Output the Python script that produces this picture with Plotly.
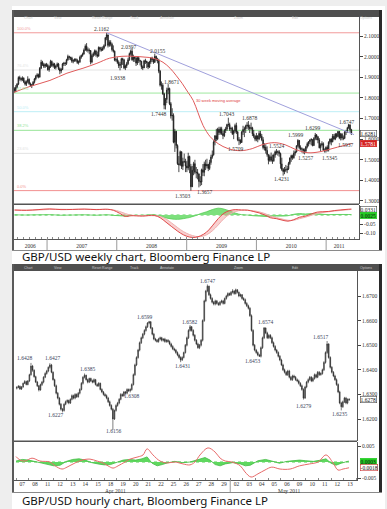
import plotly.graph_objects as go
import pandas as pd

W, H = 387, 509

# ---------------- weekly GBP/USD, values in thousandths ----------------
wk_first_date = "2006-07-14"
wk_first_open = 1845
wk_close = [
    1835, 1851, 1867, 1899, 1895, 1889, 1896, 1878, 1867, 1879, 1890, 1869, 1860, 1863, 1876, 1892,
    1905, 1912, 1902, 1944, 1973, 1962, 1954, 1962, 1958,
    1937, 1953, 1977, 1957, 1965, 1947, 1954, 1965, 1942, 1931, 1938, 1965, 1968, 1967, 1985, 2001, 1997,
    1994, 1978, 1981, 1987, 1983, 1972, 1975, 1998, 2006, 2013, 2032, 2051, 2034, 2031, 2030, 1974, 2006, 2015,
    2028, 2010, 2003, 2045, 2036, 2032, 2041, 2053, 2092, 2106, 2055, 2070, 2060, 2034, 2027, 1983, 1986,
    1972, 1957, 1963, 1990, 1985, 1946, 1955, 1966, 1985, 2015, 2027, 1985, 1998, 1993, 1969, 1995, 1982,
    1978, 1951, 1946, 1980, 1978, 1972, 1950, 1974, 1993, 1986, 1973, 2002, 1988, 1981, 1930, 1862, 1862, 1820,
    1765, 1793, 1838, 1846, 1772, 1713, 1715, 1585, 1638, 1569, 1481, 1476, 1539, 1468, 1492, 1491, 1470,
    1460, 1516, 1467, 1369, 1449, 1481, 1439, 1439, 1432, 1395, 1392, 1451, 1439, 1480, 1470, 1477, 1458,
    1487, 1513, 1524, 1586, 1616, 1601, 1648, 1632, 1650, 1627, 1617, 1643, 1649, 1671, 1671, 1649, 1652, 1626,
    1639, 1666, 1635, 1597, 1594, 1584, 1634, 1647, 1650, 1664, 1668, 1658, 1652, 1655, 1626, 1614, 1600,
    1615, 1601, 1628, 1614, 1597, 1559, 1561, 1545, 1525, 1497, 1515, 1497, 1495, 1523, 1539, 1536, 1539, 1530,
    1480, 1453, 1443, 1452, 1450, 1456, 1482, 1508, 1520, 1510, 1532, 1538, 1568, 1594, 1559, 1553, 1552,
    1545, 1542, 1563, 1578, 1588, 1596, 1598, 1569, 1604, 1620, 1612, 1596, 1558, 1572, 1578, 1546, 1544, 1560,
    1547, 1585, 1600, 1587, 1614, 1601, 1624, 1613, 1637, 1606, 1624, 1605, 1604, 1634, 1637, 1655, 1670,
    1646, 1628]
wk_high = [
    1852, 1862, 1872, 1905, 1908, 1900, 1905, 1900, 1885, 1885, 1905, 1895, 1875, 1868, 1882, 1897,
    1912, 1920, 1918, 1950, 1985, 1980, 1970, 1968, 1970,
    1966, 1958, 1985, 1982, 1972, 1970, 1960, 1972, 1970, 1948, 1945, 1970, 1975, 1975, 1990, 2010, 2005,
    2000, 2000, 1988, 1992, 1993, 1990, 1982, 2005, 2010, 2020, 2040, 2060, 2066, 2045, 2040, 2025, 2015, 2022,
    2035, 2034, 2025, 2050, 2048, 2048, 2050, 2060, 2095, 2116, 2100, 2080, 2080, 2068, 2055, 2030, 1995,
    1998, 1982, 1975, 1995, 1995, 1990, 1962, 1975, 1995, 2020, 2035, 2040, 2010, 2000, 2000, 2003, 2003,
    1985, 1980, 1958, 1985, 1990, 1980, 1975, 1980, 1998, 2000, 1990, 2015, 2005, 1995, 1990, 1935, 1880, 1872,
    1825, 1800, 1850, 1867, 1850, 1780, 1750, 1725, 1650, 1640, 1575, 1518, 1545, 1540, 1510, 1530, 1505,
    1495, 1534, 1520, 1480, 1470, 1490, 1500, 1465, 1455, 1432, 1420, 1457, 1479, 1491, 1500, 1505, 1480,
    1500, 1525, 1545, 1595, 1620, 1650, 1655, 1660, 1660, 1660, 1640, 1650, 1660, 1675, 1704, 1680, 1660, 1660,
    1645, 1675, 1680, 1640, 1610, 1600, 1640, 1665, 1660, 1670, 1682, 1688, 1670, 1680, 1660, 1645, 1620,
    1630, 1620, 1640, 1640, 1625, 1610, 1580, 1575, 1565, 1525, 1525, 1535, 1525, 1530, 1545, 1552, 1545, 1547,
    1535, 1510, 1460, 1465, 1475, 1470, 1490, 1512, 1525, 1525, 1545, 1545, 1570, 1600, 1590, 1570, 1560,
    1555, 1555, 1568, 1585, 1590, 1600, 1605, 1598, 1610, 1630, 1625, 1615, 1605, 1580, 1590, 1585, 1555, 1565,
    1570, 1590, 1603, 1605, 1625, 1625, 1630, 1630, 1640, 1640, 1630, 1630, 1618, 1640, 1645, 1660, 1675,
    1670, 1650]
wk_low = [
    1826, 1828, 1846, 1862, 1884, 1880, 1882, 1872, 1860, 1858, 1872, 1864, 1855, 1848, 1858, 1870,
    1885, 1898, 1895, 1898, 1940, 1955, 1945, 1945, 1950,
    1932, 1927, 1945, 1950, 1948, 1940, 1938, 1950, 1935, 1915, 1920, 1935, 1955, 1955, 1960, 1980, 1985,
    1983, 1970, 1968, 1975, 1975, 1965, 1962, 1970, 1990, 2000, 2010, 2028, 2025, 2020, 2012, 1963, 1968, 1998,
    2005, 2000, 1995, 2000, 2025, 2025, 2028, 2035, 2050, 2080, 2045, 2048, 2050, 2025, 2020, 1978, 1975,
    1965, 1945, 1934, 1945, 1960, 1940, 1935, 1945, 1960, 1980, 2005, 1980, 1975, 1975, 1955, 1960, 1970,
    1958, 1940, 1935, 1945, 1965, 1945, 1940, 1945, 1965, 1975, 1965, 1970, 1978, 1968, 1920, 1855, 1840, 1815,
    1745, 1744, 1775, 1818, 1765, 1700, 1690, 1580, 1538, 1555, 1475, 1440, 1470, 1455, 1450, 1485, 1440,
    1440, 1449, 1435, 1350, 1368, 1425, 1430, 1410, 1405, 1366, 1372, 1377, 1421, 1420, 1450, 1458, 1445,
    1450, 1476, 1505, 1520, 1570, 1590, 1595, 1620, 1622, 1620, 1600, 1610, 1630, 1640, 1660, 1640, 1630, 1620,
    1600, 1630, 1625, 1590, 1571, 1576, 1582, 1620, 1610, 1630, 1650, 1645, 1630, 1645, 1615, 1605, 1590,
    1590, 1585, 1595, 1605, 1590, 1550, 1545, 1530, 1515, 1478, 1490, 1490, 1480, 1490, 1510, 1525, 1520, 1515,
    1457, 1445, 1423, 1430, 1440, 1435, 1450, 1475, 1490, 1500, 1505, 1520, 1535, 1560, 1550, 1545, 1535,
    1530, 1526, 1535, 1555, 1565, 1575, 1570, 1565, 1568, 1595, 1595, 1580, 1555, 1540, 1565, 1545, 1535, 1535,
    1540, 1540, 1575, 1570, 1585, 1595, 1595, 1605, 1610, 1600, 1594, 1595, 1595, 1600, 1620, 1630, 1650,
    1630, 1620]

# 30 week moving average
ma_dates = ["2006-07-12", "2006-10-04", "2007-01-16", "2007-04-15", "2007-07-08", "2007-09-19", "2007-11-25",
            "2008-01-28", "2008-03-26", "2008-05-28", "2008-07-09", "2008-08-30", "2008-10-06", "2008-11-06",
            "2008-12-08", "2009-01-08", "2009-02-04", "2009-03-01", "2009-03-28", "2009-05-04", "2009-06-15",
            "2009-08-06", "2009-10-08", "2009-12-10", "2010-01-31", "2010-04-04", "2010-05-31", "2010-07-27",
            "2010-09-28", "2010-11-30", "2011-02-01", "2011-03-29", "2011-05-13"]
ma_vals = [1.827, 1.856, 1.885, 1.920, 1.944, 1.968, 1.993, 2.002, 2.002, 1.998, 1.993, 1.973, 1.944, 1.910,
           1.871, 1.827, 1.788, 1.729, 1.666, 1.612, 1.578, 1.554, 1.544, 1.554, 1.573, 1.583, 1.573, 1.549,
           1.534, 1.539, 1.554, 1.568, 1.5781]

trend_dates = ["2007-11-09", "2011-05-27"]
trend_vals = [2.1162, 1.6220]

fib_pct = ["100.0%", "76.4%", "61.8%", "50.0%", "38.2%", "23.6%", "0.0%"]
fib_vals = [2.1162, 1.9355, 1.8236, 1.7333, 1.6429, 1.5311, 1.3503]
fib_cols = ["#f29a9a", "#e4e4e4", "#9ee89e", "#bdeef6", "#97e497", "#e2e2e2", "#f29090"]

wk_ind_dates = ["2006-07-15", "2006-09-15", "2006-11-15", "2007-01-15", "2007-03-15", "2007-05-15",
                "2007-07-15", "2007-09-15", "2007-11-15", "2007-12-15", "2008-01-15", "2008-02-15",
                "2008-03-15", "2008-05-15", "2008-07-15", "2008-08-15", "2008-09-15", "2008-10-15",
                "2008-11-15", "2008-12-15", "2009-01-15", "2009-02-15", "2009-03-15", "2009-04-15",
                "2009-05-15", "2009-06-15", "2009-07-15", "2009-08-15", "2009-09-15", "2009-10-15",
                "2009-11-15", "2009-12-15", "2010-01-15", "2010-02-15", "2010-03-15", "2010-04-15",
                "2010-05-15", "2010-06-15", "2010-07-15", "2010-08-15", "2010-09-15", "2010-10-15",
                "2010-11-15", "2010-12-15", "2011-01-15", "2011-02-15", "2011-03-15", "2011-04-15", "2011-05-13"]
wk_macd = [0.028, 0.026, 0.030, 0.034, 0.030, 0.031, 0.033, 0.030, 0.032, 0.026, 0.010, -0.008, -0.004,
           -0.006, -0.002, -0.015, -0.040, -0.065, -0.090, -0.110, -0.122, -0.124, -0.115, -0.095, -0.060,
           -0.020, 0.010, 0.025, 0.030, 0.028, 0.027, 0.020, 0.012, 0.000, -0.015, -0.020, -0.028, -0.034,
           -0.026, -0.012, -0.006, 0.006, 0.016, 0.018, 0.020, 0.025, 0.028, 0.031, 0.0331]
wk_signal = [0.027, 0.027, 0.028, 0.031, 0.032, 0.031, 0.032, 0.031, 0.031, 0.028, 0.020, 0.008, 0.000,
             -0.004, -0.004, -0.008, -0.022, -0.045, -0.070, -0.092, -0.108, -0.118, -0.120, -0.110, -0.088,
             -0.055, -0.020, 0.005, 0.020, 0.026, 0.027, 0.024, 0.018, 0.008, -0.005, -0.014, -0.022, -0.029,
             -0.029, -0.020, -0.012, -0.002, 0.008, 0.014, 0.018, 0.022, 0.025, 0.028, 0.031]
wk_hist = [0.001, 0.000, 0.001, 0.002, -0.001, 0.000, 0.001, -0.001, 0.001, -0.002, -0.004, -0.006, -0.003,
           -0.002, 0.001, -0.006, -0.016, -0.022, -0.024, -0.020, -0.014, -0.004, 0.008, 0.018, 0.030,
           0.038, 0.033, 0.022, 0.010, 0.002, 0.000, -0.004, -0.006, -0.008, -0.009, -0.006, -0.006, -0.004,
           0.004, 0.008, 0.006, 0.008, 0.008, 0.004, 0.002, 0.003, 0.003, 0.003, 0.0025]

wk_ticks = [1.3, 1.4, 1.5, 1.6, 1.7, 1.8, 1.9, 2.0, 2.1]
wk_year_labels = ["2006", "2007", "2008", "2009", "2010", "2011"]
wk_year_pos = ["2006-10-05", "2007-07-02", "2008-07-01", "2009-07-02", "2010-07-02", "2011-03-10"]
wk_year_starts = ["2007-01-01", "2008-01-01", "2009-01-01", "2010-01-01", "2011-01-01"]

wk_note_text = ["2.1162", "2.0397", "2.0155", "1.9338", "1.8671", "1.7448", "1.7043", "1.6878", "1.6299",
                "1.6747", "1.5999", "1.5709", "1.5524", "1.5257", "1.5345", "1.5937", "1.4231", "1.3657", "1.3503"]
wk_note_date = ["2007-10-15", "2008-03-01", "2008-07-30", "2008-01-07", "2008-10-16", "2008-08-04",
                "2009-07-26", "2009-11-28", "2010-10-24", "2011-04-19", "2010-07-27", "2009-09-16",
                "2010-04-14", "2010-09-17", "2011-01-21", "2011-04-14", "2010-05-10", "2009-04-06", "2008-12-08"]
wk_note_level = [2.134, 2.046, 2.027, 1.895, 1.876, 1.720, 1.724, 1.705, 1.656, 1.685, 1.622, 1.554,
                 1.568, 1.510, 1.510, 1.573, 1.407, 1.344, 1.324]

# ---------------- hourly GBP/USD (3-hour bars), pips above 1.6000 ----------------
hr_first_open = 325
hr_close = [
    328, 333, 322, 330, 345, 352, 340, 355,
    380, 415, 398, 372, 350, 335, 318, 340,
    350, 370, 385, 395, 410, 420, 390, 360,
    335, 305, 285, 260, 240, 235, 260, 270,
    275, 265, 280, 295, 285, 300, 290, 305,
    320, 345, 370, 378, 360, 350, 365, 355,
    350, 360, 340, 335, 345, 320, 310, 300,
    295, 285, 270, 255, 240, 200, 235, 255,
    265, 280, 300, 295, 310, 305, 320, 315,
    320, 340, 380, 420, 450, 480, 510, 530,
    545, 560, 575, 590, 595, 570, 545, 525,
    520, 515, 525, 530, 520, 525, 515, 520,
    515, 505, 495, 485, 480, 470, 460, 450,
    440, 450, 470, 500, 530, 560, 575, 560,
    540, 520, 505, 490, 500, 520, 600, 680,
    720, 740, 705, 690, 675, 668, 680, 670,
    665, 675, 680, 670, 690, 700, 710, 705,
    715, 720, 710, 725, 715, 700, 705, 690,
    685, 670, 660, 650, 620, 560, 500, 480,
    470, 460, 455, 490, 530, 570, 550, 530,
    540, 530, 510, 495, 480, 470, 455, 440,
    420, 400, 390, 380, 395, 370, 360, 375,
    370, 360, 355, 345, 335, 320, 285, 330,
    350, 360, 370, 355, 365, 380, 370, 390,
    380, 385, 400, 430, 470, 505, 450, 410,
    390, 375, 360, 340, 310, 265, 250, 270,
    285, 265, 280, 278]
hr_high = [
    334, 338, 336, 334, 348, 358, 356, 358,
    384, 428, 420, 402, 376, 355, 338, 344,
    355, 374, 390, 400, 414, 427, 424, 394,
    364, 340, 310, 290, 265, 245, 264, 275,
    280, 279, 284, 300, 299, 305, 304, 310,
    325, 350, 374, 385, 380, 364, 368, 368,
    360, 365, 363, 345, 350, 348, 325, 314,
    305, 300, 290, 275, 260, 245, 238, 260,
    270, 285, 305, 304, 314, 314, 325, 324,
    325, 345, 385, 425, 455, 485, 515, 535,
    550, 565, 580, 594, 599, 598, 574, 550,
    530, 525, 530, 535, 534, 528, 530, 524,
    525, 520, 510, 500, 490, 485, 475, 465,
    455, 455, 474, 505, 535, 565, 582, 578,
    565, 545, 525, 510, 505, 525, 605, 685,
    725, 747, 742, 710, 695, 680, 685, 684,
    675, 680, 685, 684, 694, 705, 715, 714,
    720, 728, 724, 730, 728, 718, 710, 708,
    695, 690, 675, 665, 655, 625, 565, 505,
    485, 475, 465, 495, 535, 574, 572, 555,
    545, 545, 535, 515, 500, 485, 475, 460,
    445, 425, 405, 395, 400, 400, 375, 380,
    380, 375, 365, 360, 350, 340, 325, 335,
    355, 365, 375, 374, 370, 385, 384, 395,
    395, 390, 405, 435, 475, 517, 508, 455,
    415, 395, 380, 365, 345, 315, 270, 275,
    290, 290, 284, 285]
hr_low = [
    320, 325, 318, 318, 327, 342, 337, 337,
    350, 376, 392, 368, 346, 330, 312, 315,
    334, 345, 366, 380, 390, 405, 386, 356,
    330, 300, 280, 255, 234, 227, 230, 256,
    264, 260, 261, 276, 280, 280, 286, 287,
    300, 316, 340, 365, 356, 345, 346, 350,
    345, 346, 336, 330, 331, 316, 305, 295,
    290, 280, 265, 250, 235, 156, 196, 230,
    250, 260, 276, 290, 290, 300, 300, 310,
    308, 315, 336, 375, 415, 445, 475, 505,
    525, 540, 555, 570, 585, 565, 540, 520,
    515, 510, 510, 520, 515, 515, 510, 510,
    510, 500, 490, 480, 475, 465, 455, 445,
    431, 436, 446, 466, 495, 525, 555, 555,
    535, 515, 500, 485, 484, 495, 515, 595,
    675, 715, 700, 685, 670, 662, 662, 665,
    660, 660, 670, 665, 666, 685, 695, 700,
    700, 710, 705, 706, 710, 695, 695, 685,
    680, 665, 655, 645, 615, 555, 495, 475,
    465, 455, 453, 450, 485, 525, 545, 525,
    525, 525, 505, 490, 475, 465, 450, 435,
    415, 395, 385, 375, 375, 365, 355, 355,
    365, 355, 350, 340, 330, 315, 279, 282,
    325, 345, 355, 350, 350, 360, 365, 366,
    375, 376, 380, 395, 425, 465, 445, 405,
    385, 370, 355, 335, 305, 260, 235, 245,
    265, 260, 260, 274]
hr_bars_per_day = 8

hr_day_labels = ["07", "08", "11", "12", "13", "14", "15", "18", "19", "20", "21", "22", "25", "26", "27",
                 "28", "29", "02", "03", "04", "05", "06", "09", "10", "11", "12", "13"]
hr_month_labels = ["Apr 2011", "May 2011"]
hr_month_pos = [7.86, 21.7]
hr_month_break = 17

hr_ind_k = [0, 0.32, 0.71, 1.27, 1.9, 2.7, 3.1, 3.65, 4.05, 4.68, 5.24, 5.87, 6.43, 6.9, 7.3, 7.7, 8.1,
            8.65, 9.05, 9.68, 10.08, 10.4, 10.87, 11.43, 12.0, 12.6, 13.25, 13.8, 14.2, 14.6, 15.24, 15.8,
            16.2, 16.6, 17.14, 17.8, 18.17, 18.65, 19.2, 19.76, 20.3, 20.95, 21.75, 22.5, 23.3, 23.97,
            24.6, 25.16, 25.55, 25.95, 26.43]
hr_macd = [0.0017, 0.0006, 0.0003, 0.0012, 0.0003, 0.0, -0.0012, -0.0022, -0.0016, -0.0003, 0.0006,
           0.0009, 0.0003, -0.0003, -0.0012, -0.0019, -0.0012, 0.0, 0.0009, 0.0016, 0.0022, 0.0041, 0.0022,
           0.0003, -0.0003, 0.0, -0.0006, -0.0009, 0.0, 0.0022, 0.0044, 0.0031, 0.0012, 0.0003, 0.0,
           -0.0012, -0.0031, -0.0047, -0.0037, -0.0025, -0.0016, -0.0022, -0.0022, -0.0012, -0.0006, 0.0,
           0.0022, -0.0003, -0.0025, -0.0022, -0.0018]
hr_hist_k = [0, 0.5, 1.0, 1.5, 2.0, 2.5, 3.0, 3.5, 4.0, 4.5, 5.0, 5.5, 6.0, 6.5, 7.0, 7.5, 8.0, 8.5, 9.0,
             9.5, 10.0, 10.4, 10.8, 11.2, 11.6, 12.0, 12.6, 13.2, 13.8, 14.4, 15.0, 15.4, 15.8, 16.2, 16.6,
             17.2, 17.8, 18.2, 18.6, 19.2, 19.8, 20.3, 20.9, 21.5, 22.0, 22.5, 23.0, 23.6, 24.2, 24.6, 25.0,
             25.4, 25.8, 26.4]
hr_hist = [0.0003, 0.0008, 0.0006, 0.0002, -0.0002, -0.0006, -0.0012, -0.0010, 0.0002, 0.0008, 0.0010,
           0.0006, -0.0002, -0.0006, -0.0009, -0.0008, 0.0, 0.0006, 0.0008, 0.0006, 0.0010, 0.0016,
           -0.0004, -0.0012, -0.0008, -0.0003, 0.0002, -0.0002, 0.0, 0.0008, 0.0014, 0.0006, -0.0008,
           -0.0012, -0.0006, -0.0002, -0.0006, -0.0012, -0.0010, 0.0004, 0.0008, 0.0003, -0.0004, 0.0002,
           0.0004, 0.0006, 0.0004, 0.0002, 0.0006, 0.0010, -0.0004, -0.0010, -0.0004, 0.0003]

hr_ticks = [1.62, 1.63, 1.64, 1.65, 1.66, 1.67]
hr_note_text = ["1.6428", "1.6427", "1.6227", "1.6385", "1.6156", "1.6308", "1.6599", "1.6431", "1.6582",
                "1.6747", "1.6453", "1.6574", "1.6279", "1.6517", "1.6235"]
hr_note_k = [0.71, 2.86, 3.1, 5.71, 7.7, 9.2, 10.16, 13.25, 13.8, 15.16, 18.8, 19.76, 22.8, 24.2, 25.7]
hr_note_level = [1.6448, 1.6448, 1.6216, 1.6403, 1.6151, 1.6293, 1.6615, 1.6415, 1.6594, 1.6761, 1.6436,
                 1.6594, 1.6253, 1.6533, 1.6220]

captions = ["GBP/USD weekly chart, Bloomberg Finance LP", "GBP/USD hourly chart, Bloomberg Finance LP"]

# ---------------- build ----------------
def px(x):
    return x / W


def py(y):
    return 1 - y / H


wk_dates = pd.date_range(wk_first_date, periods=len(wk_close), freq="W-FRI")
wk_c = [v / 1000 for v in wk_close]
wk_o = [wk_first_open / 1000] + wk_c[:-1]
wk_h = [v / 1000 for v in wk_high]
wk_l = [v / 1000 for v in wk_low]

hr_x = [i / hr_bars_per_day + 0.5 / hr_bars_per_day for i in range(len(hr_close))]
hr_c = [1.6 + v / 10000 for v in hr_close]
hr_o = [1.6 + hr_first_open / 10000] + hr_c[:-1]
hr_h = [1.6 + v / 10000 for v in hr_high]
hr_l = [1.6 + v / 10000 for v in hr_low]


def candle_style(color, width, upfill):
    return dict(
        increasing=dict(line=dict(color=color, width=width), fillcolor=upfill),
        decreasing=dict(line=dict(color=color, width=width), fillcolor=color),
        hoverinfo="skip", showlegend=False,
    )


fig = go.Figure()
fig.add_trace(go.Candlestick(x=wk_dates, open=wk_o, high=wk_h, low=wk_l, close=wk_c,
                             xaxis="x", yaxis="y", **candle_style("#1a1a1a", 0.8, "#555555")))
fig.add_trace(go.Scatter(x=ma_dates, y=ma_vals, mode="lines", line=dict(color="#e05a5a", width=1, shape="spline"),
                         xaxis="x", yaxis="y", hoverinfo="skip"))
fig.add_trace(go.Scatter(x=trend_dates, y=trend_vals, mode="lines", line=dict(color="#a0a0dc", width=1),
                         xaxis="x", yaxis="y", hoverinfo="skip"))
# weekly indicator
fig.add_trace(go.Scatter(x=wk_ind_dates, y=[0] * len(wk_ind_dates), mode="lines",
                         line=dict(color="#55cc55", width=1, dash="dot"), xaxis="x2", yaxis="y2", hoverinfo="skip"))
fig.add_trace(go.Scatter(x=wk_ind_dates, y=wk_hist, mode="lines", fill="tozeroy", fillcolor="#7de07d",
                         line=dict(color="#55cc55", width=0.8, shape="spline"), xaxis="x2", yaxis="y2", hoverinfo="skip"))
fig.add_trace(go.Scatter(x=wk_ind_dates, y=wk_signal, mode="lines", line=dict(color="#f0b0b0", width=1, shape="spline"),
                         xaxis="x2", yaxis="y2", hoverinfo="skip"))
fig.add_trace(go.Scatter(x=wk_ind_dates, y=wk_macd, mode="lines", fill="tonexty", fillcolor="rgba(240,150,150,0.45)",
                         line=dict(color="#e04848", width=1, shape="spline"), xaxis="x2", yaxis="y2", hoverinfo="skip"))

fig.add_trace(go.Candlestick(x=hr_x, open=hr_o, high=hr_h, low=hr_l, close=hr_c,
                             xaxis="x3", yaxis="y3", **candle_style("#2a2a2a", 0.6, "#666666")))
fig.add_trace(go.Scatter(x=[hr_ind_k[0], hr_ind_k[-1]], y=[0, 0], mode="lines",
                         line=dict(color="#55cc55", width=1, dash="dot"), xaxis="x4", yaxis="y4", hoverinfo="skip"))
fig.add_trace(go.Scatter(x=hr_hist_k, y=hr_hist, mode="lines", fill="tozeroy", fillcolor="#5fd85f",
                         line=dict(color="#44bb44", width=0.8), xaxis="x4", yaxis="y4", hoverinfo="skip"))
fig.add_trace(go.Scatter(x=hr_ind_k, y=hr_macd, mode="lines", line=dict(color="#e86a6a", width=1, shape="spline"),
                         xaxis="x4", yaxis="y4", hoverinfo="skip"))

tick_font = dict(family="Liberation Serif", size=5.5, color="#333333")
ax_common = dict(showgrid=False, zeroline=False, fixedrange=True)
wk_xrange = ["2006-07-12", "2011-06-22"]
hr_xrange = [-0.16, 27.06]

fig.update_layout(
    width=W, height=H, margin=dict(l=0, r=0, t=0, b=0),
    paper_bgcolor="#eeeeee", plot_bgcolor="white", showlegend=False,
    xaxis=dict(domain=[px(14), px(359)], range=wk_xrange, type="date", anchor="y", showticklabels=False,
               ticks="", rangeslider=dict(visible=False), **ax_common),
    yaxis=dict(domain=[py(204), py(17)], range=[1.2854, 2.1927], anchor="x", side="right", tickvals=wk_ticks,
               ticktext=[f"{v:.4f}" for v in wk_ticks], ticks="outside", ticklen=3, tickcolor="#444",
               tickfont=tick_font, showline=True, linecolor="#555", linewidth=1, **ax_common),
    xaxis2=dict(domain=[px(14), px(359)], range=wk_xrange, type="date", anchor="y2", tickmode="array",
                tickvals=wk_year_pos, ticktext=wk_year_labels, ticks="", tickfont=tick_font, showline=True,
                linecolor="#555", linewidth=1, ticklabelstandoff=1,
                minor=dict(dtick="M1", tick0="2006-01-01", ticks="inside", ticklen=2, tickcolor="#888"),
                **ax_common),
    yaxis2=dict(domain=[py(239), py(205)], range=[-0.133, 0.0556], anchor="x2", side="right",
                tickvals=[-0.05, -0.10], ticktext=["-0.05", "-0.10"], ticks="outside", ticklen=3,
                tickcolor="#444", tickfont=tick_font, showline=True, linecolor="#555", linewidth=1, **ax_common),
    xaxis3=dict(domain=[px(14), px(357)], range=hr_xrange, anchor="y3", showticklabels=False, ticks="",
                rangeslider=dict(visible=False), **ax_common),
    yaxis3=dict(domain=[py(441), py(270)], range=[1.61106, 1.68057], anchor="x3", side="right",
                tickvals=hr_ticks, ticktext=[f"{v:.4f}" for v in hr_ticks], ticks="outside", ticklen=3,
                tickcolor="#444", tickfont=tick_font, showline=True, linecolor="#555", linewidth=1, **ax_common),
    xaxis4=dict(domain=[px(14), px(357)], range=hr_xrange, anchor="y4", tickmode="array",
                tickvals=[i + 0.5 for i in range(len(hr_day_labels))], ticktext=hr_day_labels, ticks="",
                tickfont=tick_font, showline=True, linecolor="#555", linewidth=1, ticklabelstandoff=-2,
                minor=dict(tickmode="array", tickvals=list(range(len(hr_day_labels) + 1)), ticks="inside",
                           ticklen=2, tickcolor="#888"),
                **ax_common),
    yaxis4=dict(domain=[py(480), py(442)], range=[-0.005625, 0.00625], anchor="x4", side="right",
                tickvals=[0.005, -0.005], ticktext=["0.005", "-0.005"], ticks="outside", ticklen=3,
                tickcolor="#444", tickfont=tick_font, showline=True, linecolor="#555", linewidth=1, **ax_common),
)

shapes = []


def rect(x0, y0, x1, y1, color, layer="above"):
    shapes.append(dict(type="rect", xref="paper", yref="paper", x0=px(x0), x1=px(x1), y0=py(y1), y1=py(y0),
                       fillcolor=color, line=dict(width=0), layer=layer))


rect(12, 6, 385, 509, "white", layer="below")
for top, bot in [(10, 251), (264, 493)]:
    rect(12, top, 382, top + 7, "#4f4f4f")          # toolbar
    rect(12, top, 14, bot, "#5a5a5a")               # left border
    rect(379, top, 382, bot, "#2a2a2a")             # right border
    rect(12, bot - 1, 382, bot, "#8a8a8a")          # bottom border
rect(14, 203.5, 359, 205, "#555555")
rect(14, 440.5, 357, 442, "#555555")

for lvl, col in zip(fib_vals, fib_cols):
    shapes.append(dict(type="line", xref="x domain", yref="y", x0=0, x1=1, y0=lvl, y1=lvl,
                       line=dict(color=col, width=1), layer="below"))
for d in wk_year_starts:
    shapes.append(dict(type="line", xref="x2", yref="paper", x0=d, x1=d, y0=py(250), y1=py(239),
                       line=dict(color="#999", width=1)))
shapes.append(dict(type="line", xref="x4", yref="paper", x0=hr_month_break, x1=hr_month_break,
                   y0=py(492), y1=py(480), line=dict(color="#999", width=1)))
fig.update_layout(shapes=shapes)

ann = []
note_font = dict(family="Liberation Serif", size=5.5, color="#333333")
for t, d, lv in zip(wk_note_text, wk_note_date, wk_note_level):
    ann.append(dict(x=d, y=lv, xref="x", yref="y", text=t, showarrow=False, font=note_font))
for t, k, lv in zip(hr_note_text, hr_note_k, hr_note_level):
    ann.append(dict(x=k, y=lv, xref="x3", yref="y3", text=t, showarrow=False,
                    font=dict(family="Liberation Serif", size=5.5, color="#3a3f5c")))
for t, lv, col in zip(fib_pct, fib_vals, fib_cols):
    ann.append(dict(x=px(15), y=lv, xref="paper", yref="y", text=t, showarrow=False, xanchor="left",
                    yanchor="bottom", font=dict(family="Liberation Sans", size=4, color=col)))
ann.append(dict(x="2009-06-19", y=1.788, xref="x", yref="y", text="30 week moving average", showarrow=False,
                font=dict(family="Liberation Sans", size=4, color="#e04040")))


# current-value boxes on the right axes
def box(text, y, yref, bg, fg, border):
    ann.append(dict(x=px(360), y=y, xref="paper", yref=yref, text=text, showarrow=False, xanchor="left",
                    yanchor="middle", bgcolor=bg, bordercolor=border, borderwidth=0.6, borderpad=0,
                    font=dict(family="Liberation Serif", size=5.5, color=fg)))


box("1.6281", wk_c[-1], "y", "white", "#111", "#444")
box("1.5781", ma_vals[-1], "y", "#d42020", "white", "#d42020")
box("0.0331", wk_macd[-1], "y2", "white", "#111", "#444")
box("0.0025", wk_hist[-1] - 0.004, "y2", "#22cc22", "#111", "#22cc22")
box("1.6278", hr_c[-1], "y3", "white", "#111", "#444")
box("0.0003", hr_hist[-1], "y4", "#22cc22", "#111", "#22cc22")
box("-0.0018", hr_macd[-1], "y4", "white", "#111", "#c33")

for t, k in zip(hr_month_labels, hr_month_pos):
    ann.append(dict(x=k, y=py(486), xref="x4", yref="paper", text=t, showarrow=False, yanchor="top",
                    font=tick_font))

for t, y in zip(captions, [256.5, 500.5]):
    ann.append(dict(x=px(20), y=py(y), xref="paper", yref="paper", text=t, showarrow=False, xanchor="left",
                    yanchor="middle", font=dict(family="Noto Sans", size=11.5, color="#121212")))

toolbar_items = ["Chart", "View", "Reset Range", "Track", "Annotate", "Zoom", "Edit", "Options"]
toolbar_x = [22, 52, 90, 128, 158, 232, 290, 358]
for top in [10, 264]:
    for t, x in zip(toolbar_items, toolbar_x):
        ann.append(dict(x=px(x), y=py(top + 3.5), xref="paper", yref="paper", text=t, showarrow=False,
                        xanchor="left", font=dict(family="Liberation Sans", size=3.5, color="#c8c8c8")))

fig.update_layout(annotations=ann)
fig.write_html("out.html")
